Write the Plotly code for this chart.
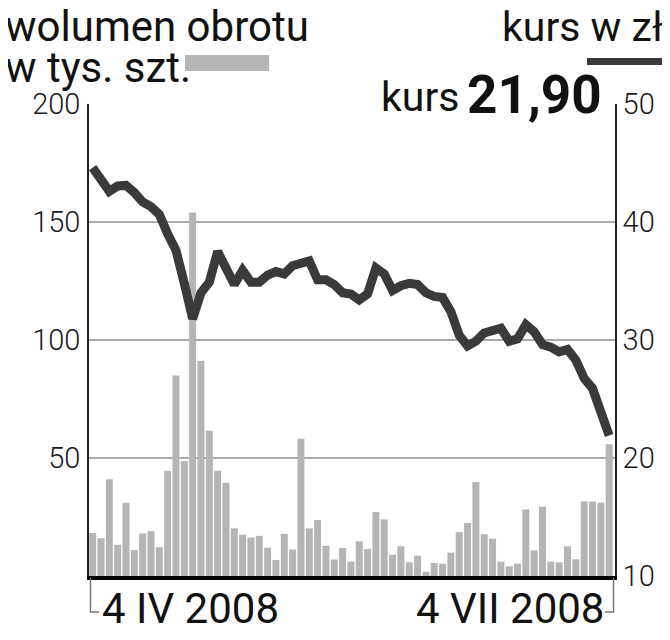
import plotly.graph_objects as go

# ---- data ----
first_day = "4 IV 2008"
last_day = "4 VII 2008"
volume = [18.2, 16, 41, 13.2, 31, 11, 18, 19, 12.2, 44.6,
          85, 48.7, 154, 91.2, 61.5, 44.6, 39.5, 20.2, 17.5, 16.3,
          17, 12, 6.8, 17.8, 11.2, 58.2, 20.2, 23.7, 12.8, 7,
          11.9, 6.1, 14.7, 11.4, 27.1, 24, 9, 12.6, 5.8, 8.6,
          1.8, 5.5, 5.2, 9.9, 18.6, 22.5, 39.8, 17.7, 15.8, 6.1,
          4.1, 5.2, 28.2, 10.9, 29.4, 6.1, 5.8, 12.6, 7.1, 31.6,
          31.5, 31.1, 55.8]
price = [44.6, 43.7, 42.6, 43.05, 43.1, 42.5, 41.7, 41.3, 40.65, 39.0,
         37.6, 34.8, 31.8, 34.0, 34.9, 37.5, 35.9, 34.7, 35.9, 34.9,
         34.9, 35.5, 35.8, 35.6, 36.3, 36.6, 36.7, 35.1, 35.1, 34.7,
         34.0, 33.9, 33.4, 33.9, 36.1, 35.6, 34.2, 34.6, 34.8, 34.7,
         34.0, 33.7, 33.6, 32.4, 30.4, 29.5, 29.9, 30.6, 30.8, 31.0,
         29.9, 30.1, 31.3, 30.7, 29.6, 29.4, 29.0, 29.2, 28.3, 26.75,
         25.9, 24.1, 21.9]
last_price_label = "21,90"
days = list(range(len(volume)))
vol_ticks = [50, 100, 150, 200]
price_ticks = [10, 20, 30, 40, 50]

# ---- layout geometry (screen coords of the reference; page has 8px body margin) ----
OFF = 8
W, H = 670 - OFF, 640 - OFF
L, R, T, B = 89, 615, 104, 576


def px(x):
    return (x - L) / (R - L)


def py(y):
    return (B - y) / (B - T)


FONT = "Roboto"
BAR = "#b5b5b5"
LINE = "#3a3a3a"
GRID = "#aaaaaa"
TXT = "#111111"

fig = go.Figure()
fig.add_trace(go.Bar(x=days, y=volume, marker=dict(color=BAR, line=dict(width=0)),
                     yaxis="y", hoverinfo="skip"))
fig.add_trace(go.Scatter(x=days, y=price, mode="lines", yaxis="y2",
                         line=dict(color=LINE, width=9), hoverinfo="skip"))

fig.update_layout(
    width=W, height=H,
    margin=dict(l=L - OFF, r=W - (R - OFF), t=T - OFF, b=H - (B - OFF), pad=0),
    paper_bgcolor="white", plot_bgcolor="white",
    showlegend=False, bargap=0.16,
    font=dict(family=FONT, color=TXT),
    xaxis=dict(range=[-0.44, 62.7], showgrid=False, zeroline=False,
               showticklabels=False, ticks="", showline=True,
               linecolor="#000000", linewidth=4),
    yaxis=dict(range=[0, 200], tickvals=vol_ticks, showgrid=True,
               gridcolor=GRID, gridwidth=1.5, zeroline=False,
               showline=True, linecolor="#222222", linewidth=1.5,
               ticks="", ticklabelstandoff=1,
               tickfont=dict(family=FONT, size=29, color="#1a1a1a", weight=300)),
    yaxis2=dict(range=[10, 50], tickvals=price_ticks, overlaying="y", side="right",
                showgrid=False, zeroline=False, showline=True,
                linecolor="#222222", linewidth=1.5, ticks="",
                ticklabelstandoff=0,
                tickfont=dict(family=FONT, size=29, color="#1a1a1a", weight=300)),
)

shapes = [
    # mask of the top gridline behind the price label
    dict(type="rect", xref="paper", yref="paper", layer="between",
         x0=px(366), x1=px(612), y0=py(112), y1=py(96),
         fillcolor="white", line=dict(width=0)),
    # legend swatches
    dict(type="rect", xref="paper", yref="paper",
         x0=px(185), x1=px(269), y0=py(71), y1=py(55),
         fillcolor=BAR, line=dict(width=0)),
    dict(type="line", xref="paper", yref="paper",
         x0=px(587), x1=px(690), y0=py(61.5), y1=py(61.5),
         line=dict(color=LINE, width=7)),
    # date brackets
    dict(type="path", xref="paper", yref="paper",
         path=f"M {px(90.5)},{py(578)} L {px(90.5)},{py(612)} L {px(99)},{py(612)}",
         line=dict(color="#777777", width=1.5)),
    dict(type="path", xref="paper", yref="paper",
         path=f"M {px(613.5)},{py(578)} L {px(613.5)},{py(612)} L {px(605)},{py(612)}",
         line=dict(color="#777777", width=1.5)),
]

ann = []


def note(text, x, y, xanchor, size, weight=400):
    ann.append(dict(text=text, x=px(x), y=py(y), xref="paper", yref="paper",
                    xanchor=xanchor, yanchor="middle", showarrow=False,
                    font=dict(family=FONT, size=size, color=TXT, weight=weight)))


note("wolumen obrotu", 3, 26, "left", 42)
note("w tys. szt.", 3, 68, "left", 42)
note("kurs w zł", 500, 27, "left", 41)
note("kurs", 461, 97, "right", 41)
note(last_price_label, 465, 95, "left", 53, 700)
note(first_day, 100, 608, "left", 42)
note(last_day, 606, 608, "right", 42)

fig.update_layout(shapes=shapes, annotations=ann)
fig.write_html("out.html")
